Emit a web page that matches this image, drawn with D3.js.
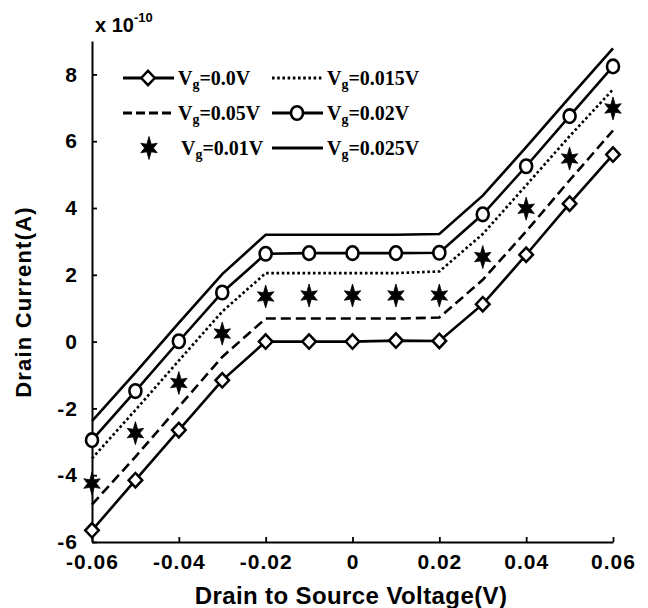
<!DOCTYPE html>
<html>
<head>
<meta charset="utf-8">
<script src="https://cdn.jsdelivr.net/npm/d3@7"></script>
<style>
  html, body { margin: 0; padding: 0; background: #fff; }
  svg { display: block; }
</style>
</head>
<body>
<svg id="chart" width="648" height="608"></svg>
<script>
// Drain voltage sweep (V)
const vds = [-0.06, -0.05, -0.04, -0.03, -0.02, -0.01, 0, 0.01, 0.02, 0.03, 0.04, 0.05, 0.06];

// Drain current for each gate voltage, in units of 1e-10 A
const idVg000  = [-5.65, -4.15, -2.65, -1.16, 0.00, 0.00, 0.00, 0.03, 0.02, 1.12, 2.60, 4.13, 5.60];
const idVg005  = [-4.88, -3.45, -1.95, -0.46, 0.69, 0.69, 0.69, 0.69, 0.72, 1.85, 3.30, 4.83, 6.32];
const idVg001  = [-4.25, -2.74, -1.24, 0.24, 1.35, 1.38, 1.38, 1.38, 1.38, 2.53, 3.98, 5.48, 6.98];
const idVg0015 = [-3.50, -2.05, -0.57, 0.90, 2.05, 2.05, 2.05, 2.05, 2.10, 3.22, 4.68, 6.15, 7.55];
const idVg002  = [-2.95, -1.48, 0.01, 1.47, 2.63, 2.65, 2.65, 2.65, 2.66, 3.81, 5.25, 6.75, 8.24];
const idVg0025 = [-2.38, -0.93, 0.56, 2.02, 3.20, 3.20, 3.20, 3.20, 3.22, 4.37, 5.82, 7.31, 8.78];

// Axis ticks
const xTicks = [-0.06, -0.04, -0.02, 0, 0.02, 0.04, 0.06];
const yTicks = [-6, -4, -2, 0, 2, 4, 6, 8];

// Series definitions: label value, data, line style and marker
const series = [
  { vg: "0.0",   data: idVg000,  dash: null,      line: true,  marker: "diamond" },
  { vg: "0.015", data: idVg0015, dash: "2.6,2.6", line: true,  marker: null },
  { vg: "0.05",  data: idVg005,  dash: "10,5",    line: true,  marker: null },
  { vg: "0.02",  data: idVg002,  dash: null,      line: true,  marker: "circle" },
  { vg: "0.01",  data: idVg001,  dash: null,      line: false, marker: "star" },
  { vg: "0.025", data: idVg0025, dash: null,      line: true,  marker: null }
];

const svg = d3.select("#chart");
const x = d3.scaleLinear().domain([-0.06, 0.06]).range([92, 613]);
const y = d3.scaleLinear().domain([-6, 9]).range([542, 41]);

const sansFont = "'Liberation Sans', Arial, sans-serif";
const serifFont = "'Liberation Serif', 'Times New Roman', serif";

// Six-pointed filled star
function starPath(cx, cy) {
  const pts = [];
  for (let i = 0; i < 12; i++) {
    const a = -Math.PI / 2 + i * Math.PI / 6;
    let r;
    if (i % 2 === 1) r = 4.4;
    else r = (i === 0 || i === 6) ? 11.5 : 9.5;
    pts.push([cx + r * Math.cos(a), cy + r * Math.sin(a)]);
  }
  return "M" + pts.map(p => p.join(",")).join("L") + "Z";
}

function drawMarker(g, kind, cx, cy) {
  if (kind === "diamond") {
    g.append("path")
      .attr("d", `M${cx},${cy - 7.2}L${cx + 6.8},${cy}L${cx},${cy + 7.2}L${cx - 6.8},${cy}Z`)
      .attr("fill", "#fff").attr("stroke", "#000").attr("stroke-width", 2.5);
  } else if (kind === "circle") {
    g.append("ellipse")
      .attr("cx", cx).attr("cy", cy).attr("rx", 6).attr("ry", 6.8)
      .attr("fill", "#fff").attr("stroke", "#000").attr("stroke-width", 2.6);
  } else if (kind === "star") {
    g.append("path").attr("d", starPath(cx, cy))
      .attr("fill", "#000").attr("stroke", "#000").attr("stroke-width", 0.8)
      .attr("stroke-linejoin", "round");
  }
}

// Axes
const xAxis = d3.axisBottom(x)
  .tickValues(xTicks)
  .tickSizeInner(-5).tickSizeOuter(0).tickPadding(12)
  .tickFormat(d => d === 0 ? "0" : d.toFixed(2));
const yAxis = d3.axisLeft(y)
  .tickValues(yTicks)
  .tickSizeInner(-5).tickSizeOuter(0).tickPadding(14)
  .tickFormat(d => String(d));

const gx = svg.append("g").attr("transform", "translate(0,542)").call(xAxis);
const gy = svg.append("g").attr("transform", "translate(92,0)").call(yAxis);
[gx, gy].forEach(g => {
  g.select(".domain").attr("stroke", "#000").attr("stroke-width", 2);
  g.selectAll(".tick line").attr("stroke", "#000").attr("stroke-width", 1.8);
  g.selectAll(".tick text")
    .attr("fill", "#000")
    .style("font-family", sansFont)
    .style("font-weight", "bold")
    .style("font-size", "21px")
    .style("letter-spacing", "1px");
});

// Scale multiplier
const mult = svg.append("text")
  .attr("x", 95).attr("y", 32)
  .style("font-family", sansFont).style("font-weight", "bold").style("font-size", "20px");
mult.append("tspan").text("x 10");
mult.append("tspan").attr("dy", -10).style("font-size", "13px").text("-10");

// Axis titles
svg.append("text")
  .attr("x", 351).attr("y", 604)
  .attr("text-anchor", "middle")
  .style("font-family", sansFont).style("font-weight", "bold").style("font-size", "24px")
  .style("letter-spacing", "0.4px")
  .text("Drain to Source Voltage(V)");

svg.append("text")
  .attr("transform", "translate(31,302) rotate(-90)")
  .attr("text-anchor", "middle")
  .style("font-family", sansFont).style("font-weight", "bold").style("font-size", "22px")
  .style("letter-spacing", "1.2px")
  .text("Drain Current(A)");

// Series
const lineGen = d3.line().x((d, i) => x(vds[i])).y(d => y(d));
const plot = svg.append("g");
series.forEach(s => {
  if (s.line) {
    plot.append("path")
      .attr("d", lineGen(s.data))
      .attr("fill", "none")
      .attr("stroke", "#000")
      .attr("stroke-width", 2.6)
      .attr("stroke-dasharray", s.dash);
  }
});
series.forEach(s => {
  if (s.marker) {
    s.data.forEach((v, i) => drawMarker(plot, s.marker, x(vds[i]), y(v)));
  }
});

// Legend: two columns, three rows
const legendOrder = ["0.0", "0.015", "0.05", "0.02", "0.01", "0.025"];
const rowsY = [78, 113, 148];
const colsX = [123, 272];
legendOrder.forEach((vg, k) => {
  const s = series.find(d => d.vg === vg);
  const col = k % 2, row = Math.floor(k / 2);
  const x0 = colsX[col], yy = rowsY[row];
  const lg = svg.append("g");
  if (s.line) {
    lg.append("line")
      .attr("x1", x0).attr("x2", x0 + 51).attr("y1", yy).attr("y2", yy)
      .attr("stroke", "#000").attr("stroke-width", s.dash ? 2.8 : 3.2)
      .attr("stroke-dasharray", s.dash === "10,5" ? "9,4" : s.dash);
  }
  if (s.marker) drawMarker(lg, s.marker, x0 + (s.line ? 25 : 26), yy);
  const t = lg.append("text")
    .attr("x", x0 + (s.line ? 55 : 58)).attr("y", yy + 7)
    .style("font-family", serifFont).style("font-weight", "bold").style("font-size", "20px");
  t.append("tspan").text("V");
  t.append("tspan").attr("dy", 4).style("font-size", "14px").text("g");
  t.append("tspan").attr("dy", -4).text("=" + vg + "V");
});
</script>
</body>
</html>
